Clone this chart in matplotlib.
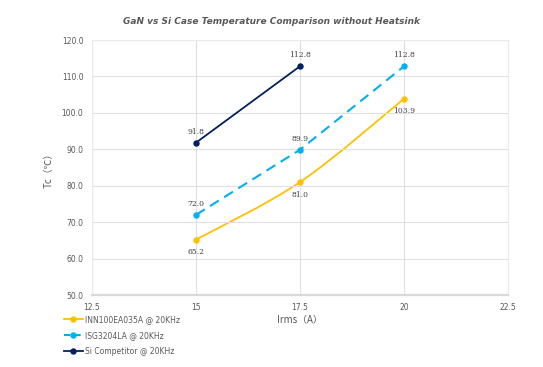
import numpy as np
import matplotlib.pyplot as plt
from matplotlib.path import Path
from matplotlib.patches import PathPatch

irms = [15, 17.5, 20]
inn_tc = [65.2, 81.0, 103.9]
isg_irms = [15, 17.5, 20]
isg_tc = [72.0, 89.9, 112.8]
si_irms = [15, 17.5]
si_tc = [91.8, 112.8]

series_names = ["INN100EA035A @ 20KHz", "ISG3204LA @ 20KHz", "Si Competitor @ 20KHz"]
colors = ["#FFC000", "#00B0F0", "#002060"]


def smooth_path(x, y, t=1/6):
    # Catmull-Rom style bezier through the points (like Excel smoothed line)
    x = np.asarray(x, float)
    y = np.asarray(y, float)
    n = len(x)
    verts = [(x[0], y[0])]
    codes = [Path.MOVETO]
    for i in range(n - 1):
        x0, y0 = (x[i - 1], y[i - 1]) if i > 0 else (x[i], y[i])
        x3, y3 = (x[i + 2], y[i + 2]) if i + 2 < n else (x[i + 1], y[i + 1])
        c1 = (x[i] + (x[i + 1] - x0) * t, y[i] + (y[i + 1] - y0) * t)
        c2 = (x[i + 1] - (x3 - x[i]) * t, y[i + 1] - (y3 - y[i]) * t)
        verts += [c1, c2, (x[i + 1], y[i + 1])]
        codes += [Path.CURVE4] * 3
    return Path(verts, codes)


fig = plt.figure(figsize=(5.43, 3.67), dpi=100)
ax = fig.add_axes([0.169, 0.196, 0.767, 0.695])

# yellow smoothed curve
ax.add_patch(PathPatch(smooth_path(irms, inn_tc), fill=False, edgecolor=colors[0], lw=1.3))
ax.plot(irms, inn_tc, "o", color=colors[0], ms=3.6, zorder=3)
ax.plot(isg_irms, isg_tc, "o", color=colors[1], ms=3.6, lw=1.5, ls=(0, (5, 3)), zorder=3)
ax.plot(si_irms, si_tc, "o-", color=colors[2], ms=3.6, lw=1.3, zorder=3)

lab_kw = dict(fontsize=5.5, family="DejaVu Serif", color="#404040", ha="center")
for xv, yv in zip(irms, inn_tc):
    ax.annotate(f"{yv:.1f}", (xv, yv), xytext=(0, -9), textcoords="offset points", va="center", **lab_kw)
for xv, yv in zip(isg_irms, isg_tc):
    ax.annotate(f"{yv:.1f}", (xv, yv), xytext=(0, 8), textcoords="offset points", va="center", **lab_kw)
for xv, yv in zip(si_irms, si_tc):
    ax.annotate(f"{yv:.1f}", (xv, yv), xytext=(0, 8), textcoords="offset points", va="center", **lab_kw)

ax.set_xlim(12.5, 22.5)
ax.set_ylim(50, 120)
ax.set_xticks([12.5, 15, 17.5, 20, 22.5])
ax.set_xticklabels(["12.5", "15", "17.5", "20", "22.5"])
ax.set_yticks(np.arange(50, 121, 10))
ax.set_yticklabels([f"{v:.1f}" for v in range(50, 121, 10)])
ax.tick_params(length=0, labelsize=5.5, colors="#595959", pad=6)
ax.grid(True, color="#E0E0E0", lw=0.8)
for s in ax.spines.values():
    s.set_color("#EAEAEA")
    s.set_linewidth(0.8)
ax.spines["bottom"].set_color("#D9D9D9")
ax.spines["bottom"].set_linewidth(1.6)

ax.set_xlabel("Irms（A）", fontsize=7, color="#595959", family=["Noto Sans CJK SC", "DejaVu Sans"], labelpad=2)
ax.set_ylabel("Tc（℃）", fontsize=7, color="#595959", family=["Noto Sans CJK SC", "DejaVu Sans"], labelpad=6)
fig.text(0.5, 0.935, "GaN vs Si Case Temperature Comparison without Heatsink", ha="center",
         fontsize=6.5, color="#595959", fontweight="bold", style="italic")

handles = [
    plt.Line2D([], [], color=colors[0], marker="o", ms=3.6, lw=1.3),
    plt.Line2D([], [], color=colors[1], marker="o", ms=3.6, lw=1.5, ls=(0, (3, 2))),
    plt.Line2D([], [], color=colors[2], marker="o", ms=3.6, lw=1.3),
]
fig.legend(handles, series_names, loc="upper left", bbox_to_anchor=(0.105, 0.16), frameon=False,
           fontsize=5.5, labelcolor="#595959", handlelength=2.5, handletextpad=0.3, labelspacing=0.9)

fig.savefig("out.png", dpi=100)
